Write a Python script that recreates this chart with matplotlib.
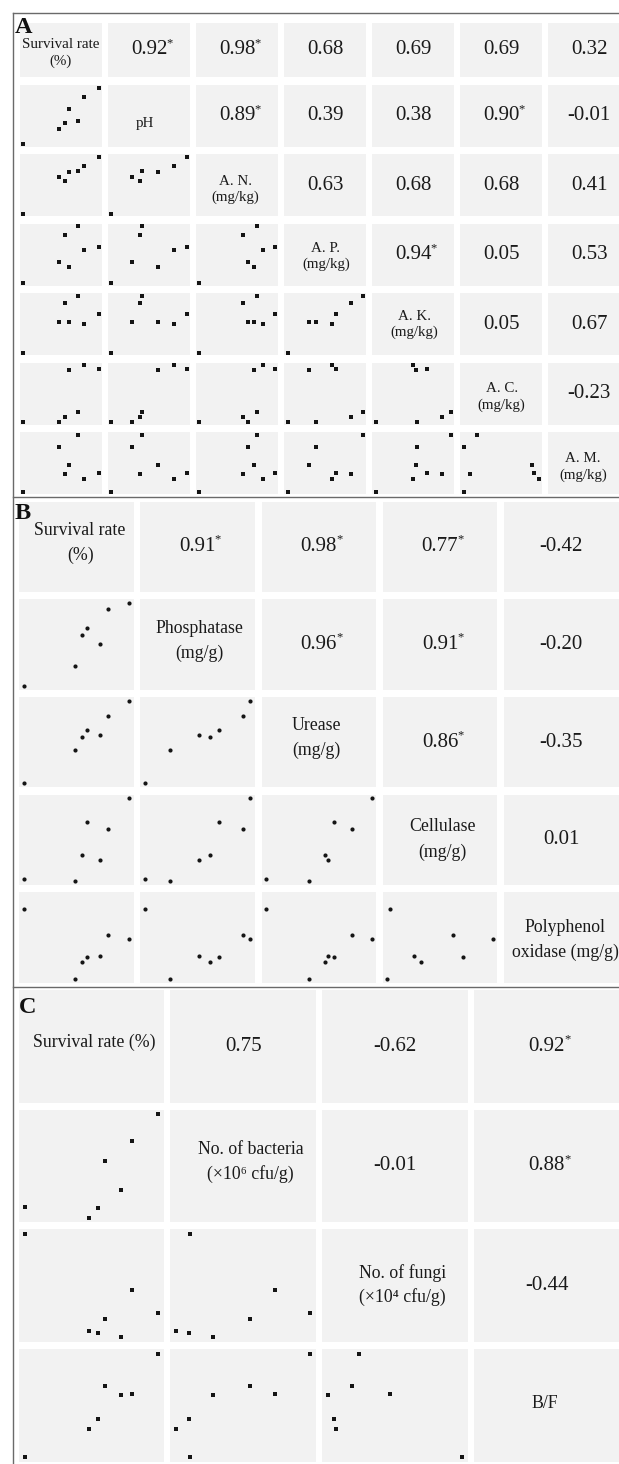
import matplotlib
matplotlib.use('Agg')
import matplotlib.pyplot as plt
from matplotlib.lines import Line2D

plt.rcParams['font.family'] = ['Liberation Serif', 'DejaVu Serif']

# ---------------- Data (each variable on its own relative 0-1 scale) ----------------
survival = [0.00, 0.48, 0.55, 0.60, 0.72, 0.80, 1.00]

# Panel A : soil chemistry
ph_vals = [0.00, 0.28, 0.38, 0.62, 0.41, 0.83, 1.00]
an_vals = [0.00, 0.64, 0.58, 0.73, 0.76, 0.85, 1.00]
ap_vals = [0.00, 0.38, 0.85, 0.29, 1.00, 0.59, 0.64]
ak_vals = [0.00, 0.55, 0.88, 0.54, 1.00, 0.50, 0.69]
ac_vals = [0.00, 0.00, 0.09, 0.91, 0.18, 1.00, 0.94]
am_vals = [0.00, 0.79, 0.31, 0.47, 1.00, 0.22, 0.32]
a_labels = ["Survival rate\n(%)", "pH", "A. N.\n(mg/kg)", "A. P.\n(mg/kg)",
            "A. K.\n(mg/kg)", "A. C.\n(mg/kg)", "A. M.\n(mg/kg)"]
a_r = [[0.92, 0.98, 0.68, 0.69, 0.69, 0.32],
       [0.89, 0.39, 0.38, 0.90, -0.01],
       [0.63, 0.68, 0.68, 0.41],
       [0.94, 0.05, 0.53],
       [0.05, 0.67],
       [-0.23]]
a_sig = [[1, 1, 0, 0, 0, 0],
         [1, 0, 0, 1, 0],
         [0, 0, 0, 0],
         [1, 0, 0],
         [0, 0],
         [0]]

# Panel B : soil enzymes
phos_vals = [0.00, 0.235, 0.62, 0.70, 0.51, 0.93, 1.00]
urea_vals = [0.00, 0.41, 0.56, 0.645, 0.59, 0.81, 1.00]
cell_vals = [0.03, 0.00, 0.315, 0.72, 0.25, 0.625, 1.00]
poly_vals = [0.84, 0.00, 0.20, 0.26, 0.28, 0.53, 0.48]
b_labels = ["Survival rate\n(%)", "Phosphatase\n(mg/g)", "Urease\n(mg/g)",
            "Cellulase\n(mg/g)", "Polyphenol\noxidase (mg/g)"]
b_r = [[0.91, 0.98, 0.77, -0.42],
       [0.96, 0.91, -0.20],
       [0.86, -0.35],
       [0.01]]
b_sig = [[1, 1, 1, 0],
         [1, 1, 0],
         [1, 0],
         [0]]

# Panel C : microbes
bact_vals = [0.10, 0.00, 0.09, 0.55, 0.27, 0.74, 1.00]
fung_vals = [1.00, 0.06, 0.04, 0.175, 0.00, 0.46, 0.23]
bf_vals = [0.00, 0.27, 0.37, 0.69, 0.60, 0.61, 1.00]
c_labels = ["Survival rate (%)", "No. of bacteria\n(\u00d710\u2076 cfu/g)",
            "No. of fungi\n(\u00d710\u2074 cfu/g)", "B/F"]
c_r = [[0.75, -0.62, 0.92],
       [-0.01, 0.88],
       [-0.44]]
c_sig = [[0, 0, 1],
         [0, 1],
         [0]]

# ---------------- Layout / style ----------------
W, H = 619, 1464
CELL = '#f2f2f2'
DOT = '#151515'
TXT = '#1a1a1a'
LINE = '#6a6a6a'
PAD = 0.045

fig = plt.figure(figsize=(W / 100, H / 100), dpi=100)
fig.patch.set_facecolor('white')


def add_ax(x, y, w, h):
    return fig.add_axes([x / W, 1 - (y + h) / H, w / W, h / H])


def draw_panel(labels, series, r, sig, col_left, col_pitch, col_w, row_tops, row_hs,
               marker, ms, lab_fs, lab_pos, lab_ls, num_fs=15):
    n = len(labels)
    for i in range(n):
        for j in range(n):
            ax = add_ax(col_left + j * col_pitch, row_tops[i], col_w, row_hs[i])
            ax.set_facecolor(CELL)
            ax.set_xlim(-PAD, 1 + PAD)
            ax.set_ylim(-PAD, 1 + PAD)
            ax.set_xticks([])
            ax.set_yticks([])
            for s in ax.spines.values():
                s.set_visible(False)
            if i > j:
                ax.plot(series[j], series[i], linestyle='none', marker=marker, ms=ms,
                        mew=0, color=DOT)
            elif i == j:
                px, py = lab_pos[i]
                ax.text(px, py, labels[i], transform=ax.transAxes, ha='center',
                        va='center', fontsize=lab_fs, color=TXT, linespacing=lab_ls,
                        multialignment='center')
            else:
                k = j - i - 1
                t = ax.text(0.5, 0.5, f"{r[i][k]:.2f}", transform=ax.transAxes,
                            ha='center', va='center', fontsize=num_fs, color=TXT)
                if sig[i][k]:
                    ax.annotate('*', xy=(1, 1), xycoords=t, xytext=(-0.8, 2.5),
                                textcoords='offset points', ha='left', va='top',
                                fontsize=9, color=TXT)


# Panel A
a_series = [survival, ph_vals, an_vals, ap_vals, ak_vals, ac_vals, am_vals]
a_tops = [22.7] + [85 + k * 69.45 for k in range(6)]
a_hs = [54.6] + [62] * 6
a_pos = [(0.5, 0.445), (0.446, 0.382), (0.476, 0.435), (0.51, 0.473),
         (0.516, 0.5), (0.505, 0.448), (0.423, 0.44)]
draw_panel(a_labels, a_series, a_r, a_sig, 20, 88.05, 82, a_tops, a_hs,
           's', 2.5, 10.8, a_pos, 1.25)

# Panel B
b_series = [survival, phos_vals, urea_vals, cell_vals, poly_vals]
b_tops = [501.7 + k * 97.65 for k in range(5)]
b_hs = [90.2] * 5
b_pos = [(0.53, 0.542), (0.513, 0.54), (0.475, 0.545), (0.523, 0.504), (0.534, 0.471)]
draw_panel(b_labels, b_series, b_r, b_sig, 19.3, 121.1, 114.8, b_tops, b_hs,
           'o', 3.0, 12.8, b_pos, 1.6)

# Panel C
c_series = [survival, bact_vals, fung_vals, bf_vals]
c_tops = [990 + k * 119.67 for k in range(4)]
c_hs = [112.5] * 4
c_pos = [(0.52, 0.535), (0.55, 0.538), (0.55, 0.505), (0.487, 0.517)]
draw_panel(c_labels, c_series, c_r, c_sig, 18.7, 151.77, 145.7, c_tops, c_hs,
           's', 3.0, 12.8, c_pos, 1.5)

# Frame lines
def hline(y, x0, x1):
    fig.add_artist(Line2D([x0 / W, x1 / W], [1 - y / H, 1 - y / H], color=LINE, lw=1.0))


def vline(x, y0, y1):
    fig.add_artist(Line2D([x / W, x / W], [1 - y0 / H, 1 - y1 / H], color=LINE, lw=1.0))


hline(13.3, 12.7, W)
hline(497.0, 12.7, W)
hline(986.5, 12.7, W)
vline(12.7, 13.3, H)

# Panel letters
for letter, x, y in [('A', 15, 33.3), ('B', 15, 519.3), ('C', 19, 1013.3)]:
    fig.text(x / W, 1 - y / H, letter, ha='left', va='baseline', fontsize=17.5,
             fontweight='bold', color='#111111', zorder=10)

fig.savefig('out.png', dpi=100)
